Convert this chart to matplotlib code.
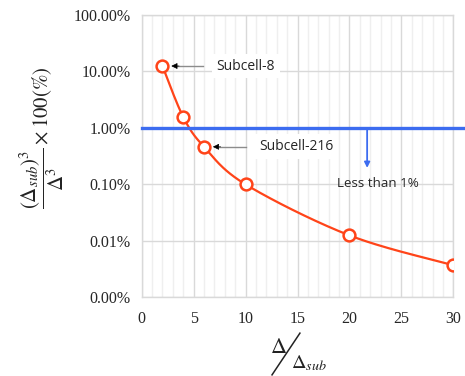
import numpy as np
import matplotlib
matplotlib.use("Agg")
import matplotlib.pyplot as plt
from matplotlib.ticker import FixedLocator, MultipleLocator, FixedFormatter

# Cell-size ratio and the corresponding volume fraction (%)
ratio = [2, 4, 6, 10, 20, 30]
volume_pct = [12.5, 1.5625, 0.463, 0.1, 0.0125, 0.0037]

y_ticks = [0.001, 0.01, 0.1, 1, 10, 100]
y_tick_labels = ["0.00%", "0.01%", "0.10%", "1.00%", "10.00%", "100.00%"]
x_ticks = [0, 5, 10, 15, 20, 25, 30]

threshold = 1.0
labels = [("Subcell-8", 2, 12.5), ("Subcell-216", 6, 0.463)]

plt.rcParams["mathtext.fontset"] = "stix"
serif = "Liberation Serif"
sans = "Open Sans"

fig = plt.figure(figsize=(4.65, 3.76), dpi=100)
ax = fig.add_axes([0.3047, 0.2093, 0.6703, 0.7507])

# Smoothed curve (Catmull-Rom through the points in x / log10(y) space)
px = np.array(ratio, float)
py = np.log10(np.array(volume_pct, float))
P = np.column_stack([px, py])
Pe = np.vstack([P[0], P, P[-1]])
curve = []
for i in range(1, len(Pe) - 2):
    p0, p1, p2, p3 = Pe[i - 1], Pe[i], Pe[i + 1], Pe[i + 2]
    c1 = p1 + (p2 - p0) / 6.0
    c2 = p2 - (p3 - p1) / 6.0
    t = np.linspace(0, 1, 40)[:, None]
    seg = ((1 - t) ** 3) * p1 + 3 * ((1 - t) ** 2) * t * c1 + 3 * (1 - t) * t ** 2 * c2 + t ** 3 * p2
    curve.append(seg)
curve = np.vstack(curve)

col = "#FF4419"
ax.plot(curve[:, 0], 10 ** curve[:, 1], color=col, lw=1.6, zorder=3)
ax.plot(ratio, volume_pct, "o", ms=8.5, mfc="white", mec=col, mew=1.8, zorder=4)

ax.set_yscale("log")
ax.set_xlim(0, 30)
ax.set_ylim(0.001, 100)
ax.yaxis.set_major_locator(FixedLocator(y_ticks))
ax.yaxis.set_major_formatter(FixedFormatter(y_tick_labels))
ax.yaxis.set_minor_locator(FixedLocator([]))
ax.xaxis.set_major_locator(FixedLocator(x_ticks))
ax.xaxis.set_minor_locator(MultipleLocator(1))

ax.grid(True, which="major", color="#D9D9D9", lw=1.0, zorder=0)
ax.grid(True, which="minor", axis="x", color="#EFEFEF", lw=1.0, zorder=0)
for s in ax.spines.values():
    s.set_color("#D9D9D9")
    s.set_linewidth(1.0)
ax.tick_params(which="both", length=0, labelsize=11.5, colors="#262626", pad=8)
for lab in ax.get_xticklabels() + ax.get_yticklabels():
    lab.set_fontfamily(serif)
ax.tick_params(axis="x", pad=10)

# 1% threshold line and arrow
blue = "#3C6CF0"
ax.plot([0, 31.1], [threshold, threshold], color=blue, lw=2.4, clip_on=False, zorder=5)
ax.annotate("", xy=(21.7, 0.196), xytext=(21.7, threshold),
            arrowprops=dict(arrowstyle="-|>", color=blue, lw=1.3, mutation_scale=8,
                            shrinkA=0, shrinkB=0), zorder=5)
ax.text(22.75, 0.105, "Less than 1%", fontsize=9.6, family=sans, color="#262626",
        ha="center", va="center", zorder=6)

# Point labels with arrows
for (txt, x0, y0), tx in zip(labels, [7.2, 11.3]):
    ax.text(tx, y0, txt, fontsize=10, family=sans, color="#262626", ha="left", va="center",
            bbox=dict(boxstyle="square,pad=0.35", fc="white", ec="none"), zorder=6)
    ax.plot([x0 + 1.4, tx - 1.3], [y0, y0], color="#8C8C8C", lw=1.0, zorder=6)
    ax.annotate("", xy=(x0 + 0.85, y0), xytext=(x0 + 1.6, y0),
                arrowprops=dict(arrowstyle="-|>", color="black", lw=0.5, mutation_scale=9,
                                shrinkA=0, shrinkB=0), zorder=7)

# Axis titles
fig.text(0.09, 0.635, r"$\dfrac{\left(\Delta_{sub}\right)^3}{\Delta^3}\times100(\%)$",
         rotation=90, fontsize=15, ha="center", va="center", color="#222222")
fig.text(0.598, 0.078, r"$\Delta$", fontsize=16, ha="center", va="center", color="#222222")
fig.text(0.665, 0.035, r"$\Delta_{sub}$", fontsize=14.5, ha="center", va="center", color="#222222")
fig.add_artist(plt.Line2D([0.585, 0.645], [0.003, 0.114], color="#222222", lw=1.1,
                          transform=fig.transFigure))

fig.savefig("out.png", dpi=100)
